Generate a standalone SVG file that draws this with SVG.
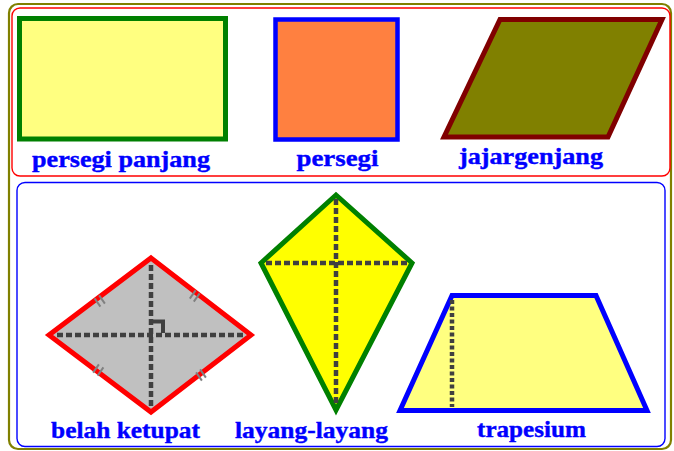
<svg xmlns="http://www.w3.org/2000/svg" width="674" height="451" viewBox="0 0 674 451">
<style>
.lbl{font-family:"Liberation Serif","Times New Roman",serif;font-weight:bold;font-size:24px;fill:#0000FF;text-anchor:middle;stroke:#0000FF;stroke-width:0.4}
.diag{stroke:#404040;stroke-width:4.5;fill:none;stroke-dasharray:6 3}
.tick{stroke:#808080;stroke-width:2;fill:none}
</style>
<rect width="674" height="451" fill="#ffffff"/>
<rect x="9" y="4" width="662" height="445" rx="9" fill="none" stroke="#808000" stroke-width="2.2"/>
<rect x="12" y="8" width="658" height="168" rx="8" fill="none" stroke="#FF0000" stroke-width="1.4"/>
<rect x="17" y="182.5" width="648" height="264" rx="8" fill="none" stroke="#0000FF" stroke-width="1.4"/>

<g id="persegi-panjang">
<rect x="19.5" y="18.5" width="206" height="120.5" fill="#FFFF80" stroke="#008000" stroke-width="5"/>
<text class="lbl" x="121" y="167" textLength="178" lengthAdjust="spacingAndGlyphs">persegi panjang</text>
</g>

<g id="persegi">
<rect x="275.5" y="19.5" width="122" height="120" fill="#FF8040" stroke="#0000FF" stroke-width="4.5"/>
<text class="lbl" x="337.5" y="166" textLength="82" lengthAdjust="spacingAndGlyphs">persegi</text>
</g>

<g id="jajargenjang">
<polygon points="500,19.5 662,19.5 608,137 444,137" fill="#808000" stroke="#800000" stroke-width="5" stroke-linejoin="miter"/>
<text class="lbl" x="531" y="164" textLength="144" lengthAdjust="spacingAndGlyphs">jajargenjang</text>
</g>

<g id="belah-ketupat">
<polygon points="151,258 251,335 151,412 49,335" fill="#C0C0C0" stroke="#FF0000" stroke-width="5"/>
<line class="diag" x1="57" y1="335" x2="244" y2="335"/>
<line class="diag" x1="151" y1="265" x2="151" y2="407"/>
<polyline points="151,321.5 163,321.5 163,333" fill="none" stroke="#404040" stroke-width="4"/>
<g class="tick">
<line x1="94.6" y1="298.4" x2="100.4" y2="306.6"/><line x1="99.1" y1="295.4" x2="104.9" y2="303.6"/>
<line x1="195.6" y1="290.4" x2="189.8" y2="298.6"/><line x1="199.6" y1="293.4" x2="193.8" y2="301.6"/>
<line x1="93.1" y1="372.6" x2="98.9" y2="364.4"/><line x1="97.6" y1="375.6" x2="103.4" y2="367.4"/>
<line x1="196.1" y1="372.4" x2="201.9" y2="380.6"/><line x1="200.1" y1="369.4" x2="205.9" y2="377.6"/>
</g>
<text class="lbl" x="125.5" y="438" textLength="149" lengthAdjust="spacingAndGlyphs">belah ketupat</text>
</g>

<g id="layang-layang">
<polygon points="336,195 412,263 336,410 261,263" fill="#FFFF00" stroke="#008000" stroke-width="5"/>
<line class="diag" x1="266" y1="263" x2="408" y2="263"/>
<line class="diag" x1="336" y1="199" x2="336" y2="404"/>
<text class="lbl" x="311.5" y="438" textLength="153" lengthAdjust="spacingAndGlyphs">layang-layang</text>
</g>

<g id="trapesium">
<polygon points="452,295.5 596,295.5 647,410.5 400,410.5" fill="#FFFF80" stroke="#0000FF" stroke-width="5"/>
<line x1="452" y1="300" x2="452" y2="407" stroke="#404040" stroke-width="4.5" stroke-dasharray="4 2.5"/>
<text class="lbl" x="531.5" y="437" textLength="109" lengthAdjust="spacingAndGlyphs">trapesium</text>
</g>
</svg>
